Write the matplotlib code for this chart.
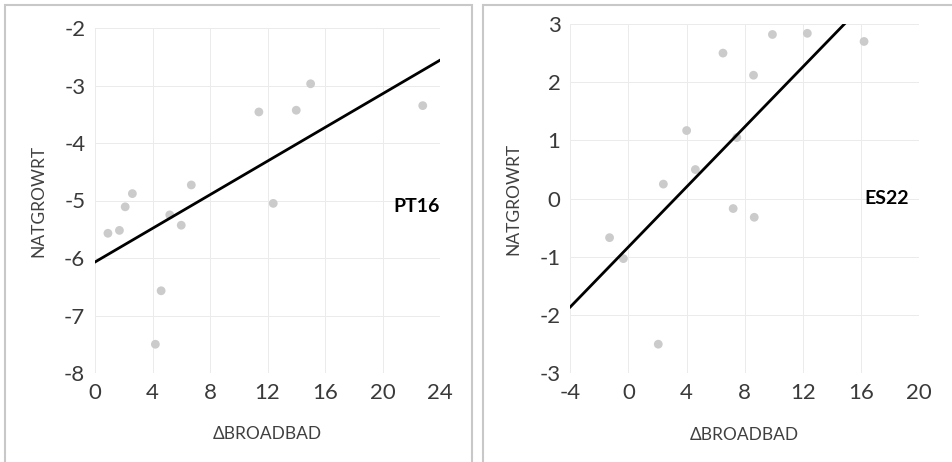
import matplotlib.pyplot as plt
from matplotlib.patches import Rectangle
import numpy as np

plt.rcParams['font.family'] = ['Lato', 'DejaVu Sans']
plt.rcParams['axes.unicode_minus'] = False

# PT16 panel
pt_x = [0.9, 1.7, 2.1, 2.6, 4.2, 4.6, 5.2, 6.0, 6.7, 11.4, 12.4, 14.0, 15.0, 22.8]
pt_y = [-5.57, -5.52, -5.11, -4.88, -7.5, -6.57, -5.25, -5.43, -4.73, -3.46, -5.05, -3.43, -2.97, -3.35]
pt_fit_x = [0, 24]
pt_fit_y = [-6.07, -2.56]

# ES22 panel
es_x = [-1.3, -0.35, 2.05, 2.4, 4.0, 4.6, 6.5, 7.2, 7.45, 8.6, 8.65, 9.9, 12.3, 16.2]
es_y = [-0.67, -1.03, -2.5, 0.25, 1.17, 0.5, 2.5, -0.17, 1.05, 2.12, -0.32, 2.82, 2.84, 2.7]
es_fit_x = [-4, 14.85]
es_fit_y = [-1.86, 3.0]

fig = plt.figure(figsize=(9.52, 4.62), dpi=100)

# panel frames
fig.patches.append(Rectangle((5 / 952, -0.05), 467 / 952, 1 - 5 / 462 + 0.05,
                             transform=fig.transFigure, fill=False,
                             edgecolor='#c8c8c8', linewidth=1.5))
fig.patches.append(Rectangle((483 / 952, -0.05), 480 / 952, 1 - 5 / 462 + 0.05,
                             transform=fig.transFigure, fill=False,
                             edgecolor='#c8c8c8', linewidth=1.5))

ax1 = fig.add_axes([95 / 952, 1 - 373 / 462, 345 / 952, 345 / 462])
ax2 = fig.add_axes([570.3 / 952, 1 - 373.3 / 462, 349 / 952, 349.3 / 462])

panels = [
    (ax1, pt_x, pt_y, pt_fit_x, pt_fit_y, (0, 24), np.arange(0, 25, 4), (-8, -2), np.arange(-8, -1, 1), 'PT16', 24, -5.1),
    (ax2, es_x, es_y, es_fit_x, es_fit_y, (-4, 20), np.arange(-4, 21, 4), (-3, 3), np.arange(-3, 4, 1), 'ES22', 19.3, 0.0),
]

for ax, x, y, fx, fy, xl, xt, yl, yt, name, lx, ly in panels:
    ax.scatter(x, y, s=40, color='#cbcbcb', edgecolors='none', zorder=3)
    ax.plot(fx, fy, color='black', linewidth=2.0, zorder=4)
    ax.set_xlim(*xl)
    ax.set_ylim(*yl)
    ax.set_xticks(xt)
    ax.set_yticks(yt)
    ax.grid(True, color='#ebebeb', linewidth=0.7)
    ax.set_axisbelow(True)
    for s in ax.spines.values():
        s.set_visible(False)
    ax.tick_params(length=0, labelsize=16, labelcolor='#3a3a3a')
    ax.tick_params(axis='x', pad=7)
    ax.tick_params(axis='y', pad=7)
    ax.set_xlabel('ΔBROADBAD', fontsize=12.5, color='#404040', labelpad=17)
    ax.set_ylabel('NATGROWRT', fontsize=12.5, color='#404040', labelpad=13)
    ax.text(lx, ly, name, fontsize=14, fontweight='bold', ha='right', va='center', color='black')

plt.savefig('out.png', dpi=100)
